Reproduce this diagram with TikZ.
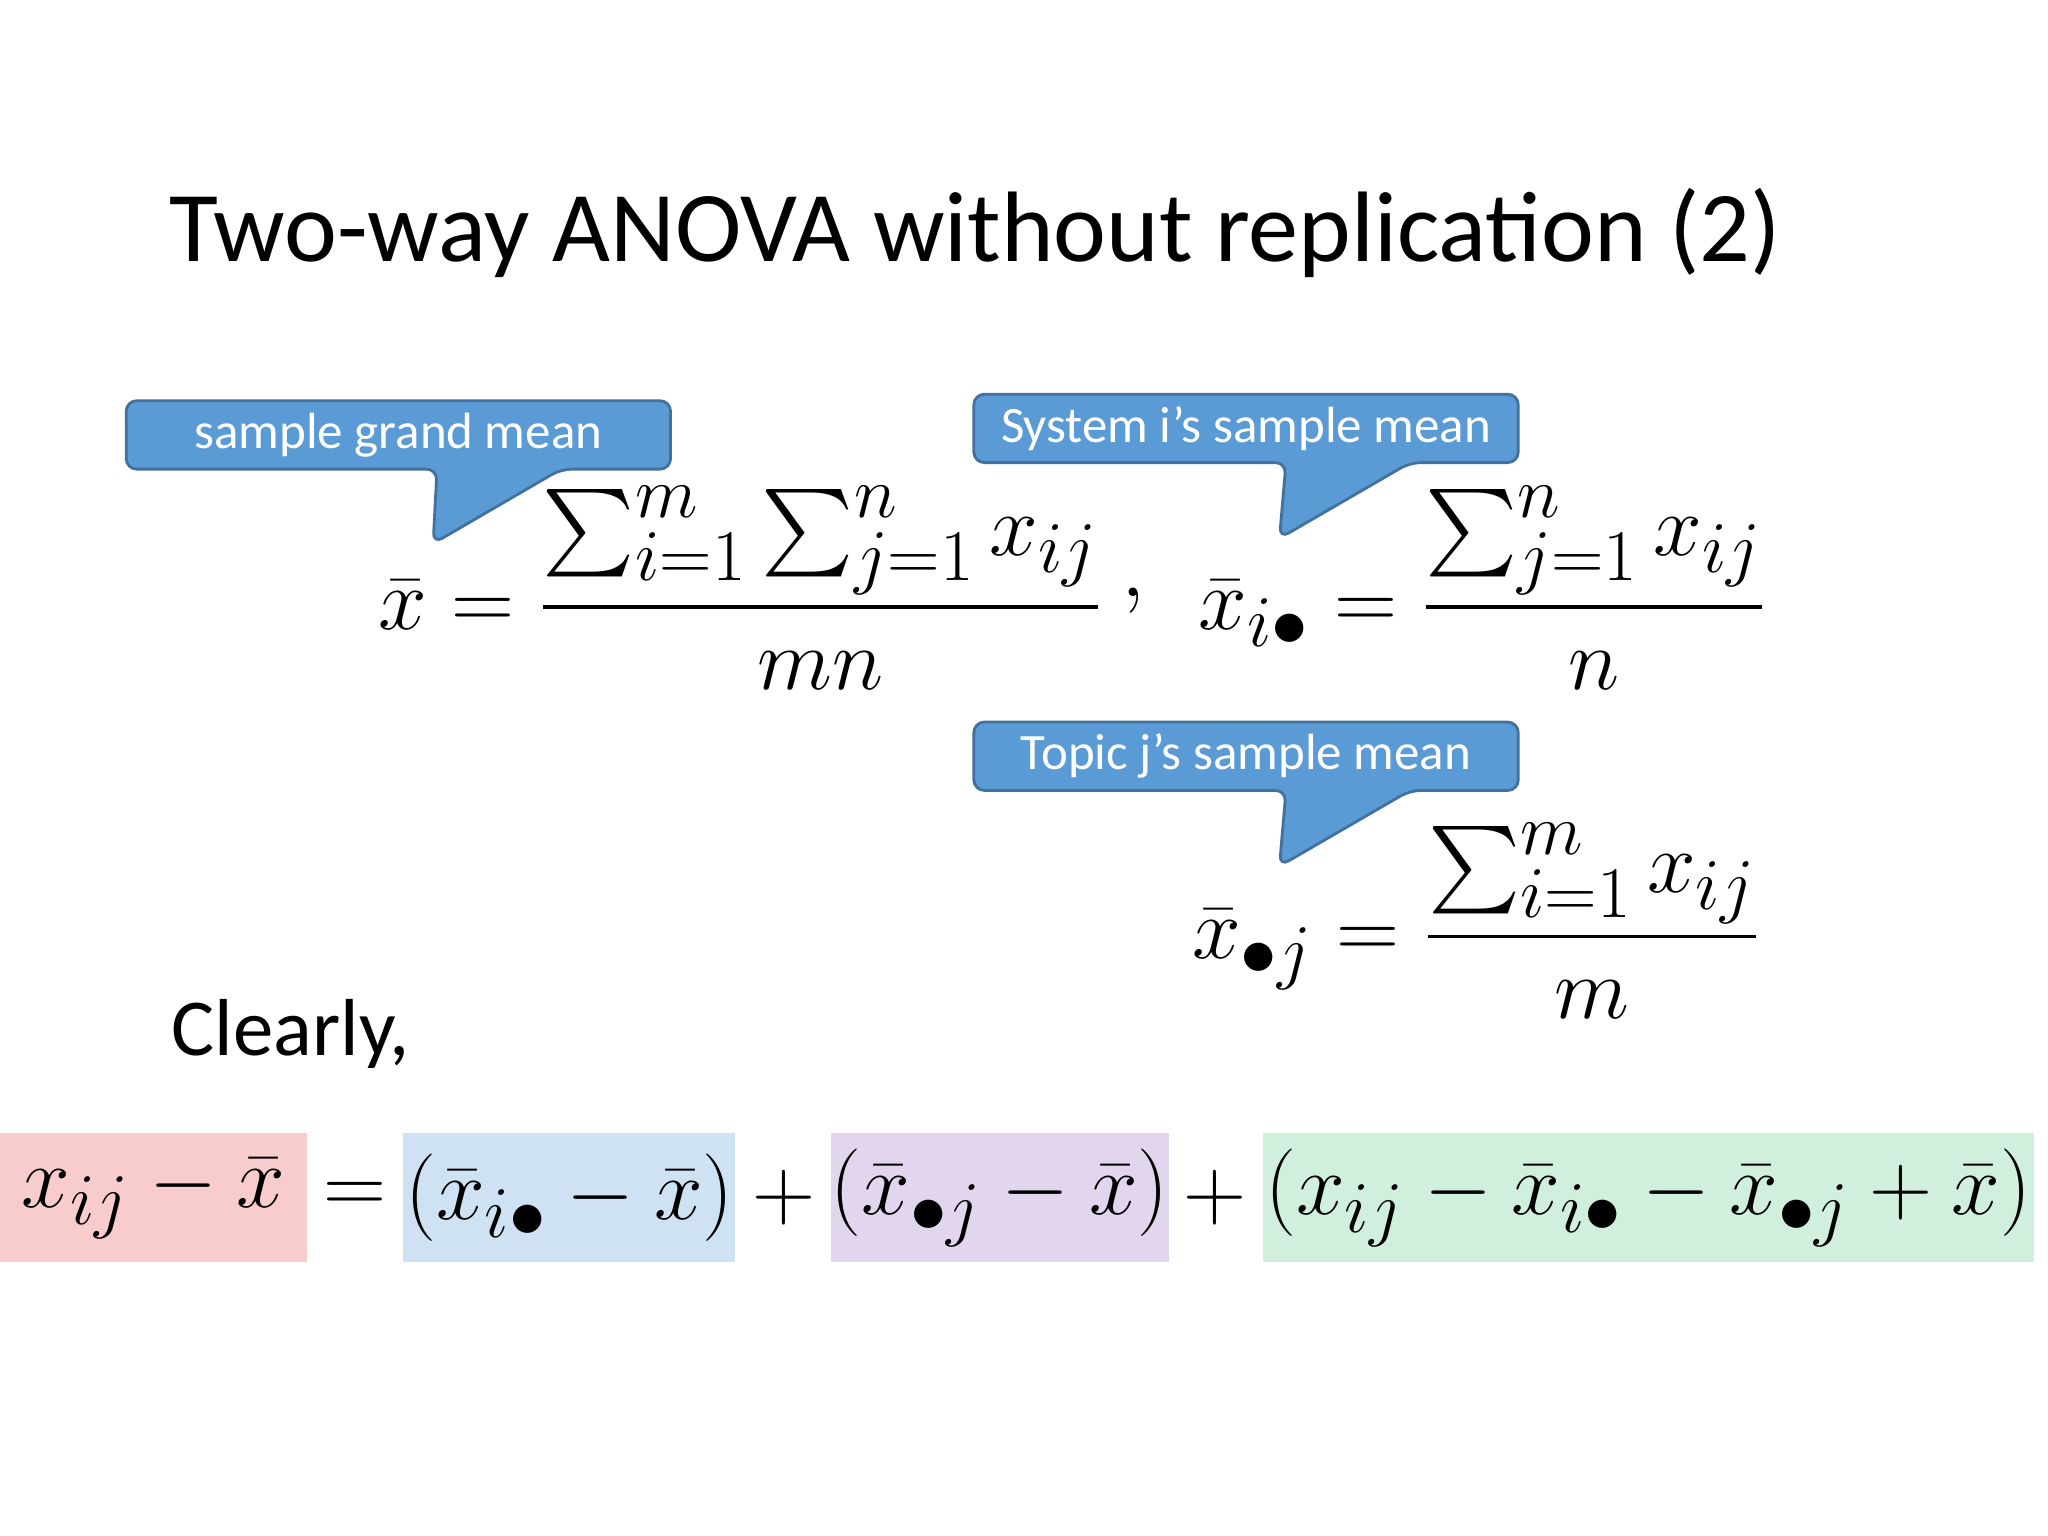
\documentclass[tikz,border=0pt]{standalone}
\usepackage{fontspec}
\setmainfont{Carlito}
\usepackage{amsmath}
\usetikzlibrary{calc,backgrounds}
\definecolor{callblue}{RGB}{91,155,213}
\definecolor{callline}{RGB}{65,113,156}
\definecolor{bandpink}{RGB}{248,204,204}
\definecolor{bandblue}{RGB}{207,226,243}
\definecolor{bandlilac}{RGB}{226,214,238}
\definecolor{bandgreen}{RGB}{208,240,221}
\tikzset{
  callbox/.style={minimum width=5.43cm, minimum height=0.67cm, inner sep=0pt,
    text=white, font=\fontsize{14.5}{17}\selectfont},
  callshape/.style={fill=callblue, draw=callline, line width=0.8pt, rounded corners=3pt},
  band/.style={minimum height=1.29cm, inner sep=0pt, font=\fontsize{31}{36}\selectfont},
  mathbig/.style={font=\fontsize{28}{34}\selectfont}
}
\begin{document}
\begin{tikzpicture}[x=0.01306cm, y=-0.01306cm]
\useasboundingbox (0,0) rectangle (1568,1176);

% Title
\node[anchor=base west, font=\fontsize{28.5}{34}\selectfont] (title) at (120,200) {Two-way ANOVA without replication (2)};

% Callouts
\node[callbox] (grand) at (305,333) {sample grand mean};
\node[callbox] (sysmean) at (954,328) {System i’s sample mean};
\node[callbox] (topmean) at (954,579) {Topic j’s sample mean};
\begin{scope}[on background layer]
  \draw[callshape] (grand.north west) -- (grand.north east) -- (grand.south east)
    -- ($(grand.south west)+(333,0)$) -- ($(grand.south west)+(235,57)$)
    -- ($(grand.south west)+(238,0)$) -- (grand.south west) -- cycle;
  \draw[callshape] (sysmean.north west) -- (sysmean.north east) -- (sysmean.south east)
    -- ($(sysmean.south west)+(334,0)$) -- ($(sysmean.south west)+(234,58)$)
    -- ($(sysmean.south west)+(239,0)$) -- (sysmean.south west) -- cycle;
  \draw[callshape] (topmean.north west) -- (topmean.north east) -- (topmean.south east)
    -- ($(topmean.south west)+(334,0)$) -- ($(topmean.south west)+(234,58)$)
    -- ($(topmean.south west)+(239,0)$) -- (topmean.south west) -- cycle;
\end{scope}

% Means
\node[mathbig] (xbar) at (567,450) {$\displaystyle \bar{x} = \frac{\sum_{i=1}^{m}\sum_{j=1}^{n} x_{ij}}{mn}$};
\node[mathbig] (comma) at (868,460) {$,$};
\node[mathbig] (xidot) at (1135,450) {$\displaystyle \bar{x}_{i\bullet} = \frac{\sum_{j=1}^{n} x_{ij}}{n}$};
\node[mathbig] (xdotj) at (1130,705) {$\displaystyle \bar{x}_{\bullet j} = \frac{\sum_{i=1}^{m} x_{ij}}{m}$};

% Clearly
\node[anchor=base west, font=\fontsize{23}{28}\selectfont] (clearly) at (122,808) {Clearly,};

% Decomposition
\node[band, fill=bandpink, minimum width=3.07cm] (total) at (117.5,917) {$x_{ij}-\bar{x}$};
\node[band] (eq) at (272,917) {$=$};
\node[band, fill=bandblue, minimum width=3.32cm] (sys) at (436,917) {$(\bar{x}_{i\bullet}-\bar{x})$};
\node[band] (plusa) at (600,917) {$+$};
\node[band, fill=bandlilac, minimum width=3.33cm] (top) at (765.5,917) {$(\bar{x}_{\bullet j}-\bar{x})$};
\node[band] (plusb) at (930,917) {$+$};
\node[band, fill=bandgreen, minimum width=7.71cm] (res) at (1262,917) {$(x_{ij}-\bar{x}_{i\bullet}-\bar{x}_{\bullet j}+\bar{x})$};
\end{tikzpicture}
\end{document}
